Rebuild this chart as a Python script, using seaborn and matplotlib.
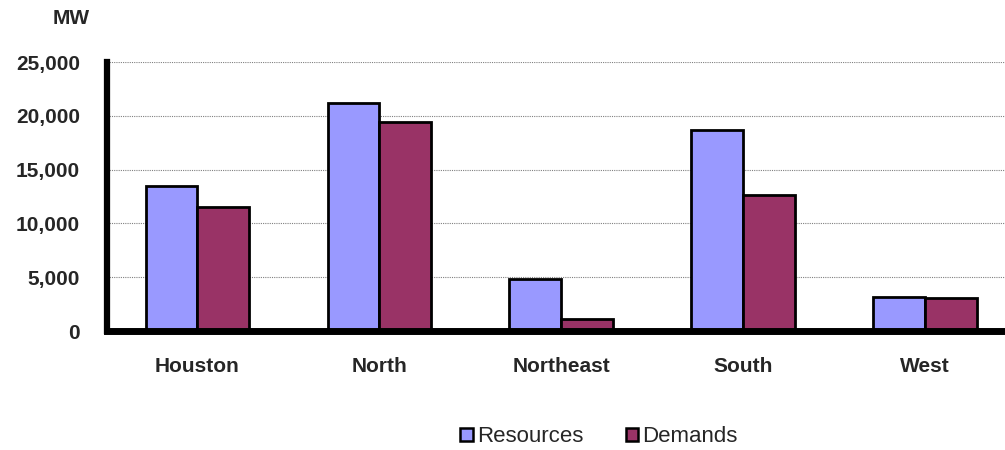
import pandas as pd
import matplotlib.pyplot as plt
import seaborn as sns
from matplotlib.ticker import FuncFormatter

# data (MW)
regions = ['Houston', 'North', 'Northeast', 'South', 'West']
resources = [13500, 21200, 4800, 18700, 3200]
demands = [11500, 19400, 1100, 12650, 3100]

df = pd.DataFrame({
    'Region': regions * 2,
    'MW': resources + demands,
    'Series': ['Resources'] * 5 + ['Demands'] * 5,
})

sns.set_style('white')
plt.rcParams['font.family'] = ['Liberation Sans', 'DejaVu Sans']

fig = plt.figure(figsize=(10.05, 4.5), dpi=100)
ax = fig.add_axes([0.106, 0.2644, 0.905, 0.5978])

sns.barplot(data=df, x='Region', y='MW', hue='Series',
            palette={'Resources': '#9999FF', 'Demands': '#993366'},
            saturation=1, width=0.57, edgecolor='black', linewidth=2,
            ax=ax, legend=True)

ax.set_ylim(0, 25000)
ax.set_xlim(-0.5, 4.5)
ax.set_yticks(range(0, 25001, 5000))
ax.yaxis.set_major_formatter(FuncFormatter(lambda v, p: f'{int(v):,}'))
ax.grid(axis='y', color='#808080', linestyle=(0, (1, 1)), linewidth=0.8)
ax.set_axisbelow(True)

for s in ['top', 'right']:
    ax.spines[s].set_visible(False)
ax.spines['left'].set_linewidth(4.5)
ax.spines['bottom'].set_linewidth(5)
ax.spines['left'].set_color('black')
ax.spines['bottom'].set_color('black')

ax.tick_params(axis='y', length=0, pad=19, labelsize=15)
ax.tick_params(axis='x', length=0, pad=19, labelsize=15)
for lbl in ax.get_xticklabels() + ax.get_yticklabels():
    lbl.set_fontweight('bold')
ax.set_xlabel('')
ax.set_ylabel('')

fig.text(0.0706, 0.959, 'MW', fontsize=15, fontweight='bold', ha='center', va='center')

leg = ax.legend(loc='center', bbox_to_anchor=(0.596, 0.029), bbox_transform=fig.transFigure,
                ncol=2, frameon=False, fontsize=16, handlelength=0.55, handleheight=0.55,
                handletextpad=0.2, columnspacing=1.9, borderpad=0)
for h in leg.legend_handles:
    h.set_edgecolor('black')
    h.set_linewidth(1.8)

fig.savefig('out.png', dpi=100)
